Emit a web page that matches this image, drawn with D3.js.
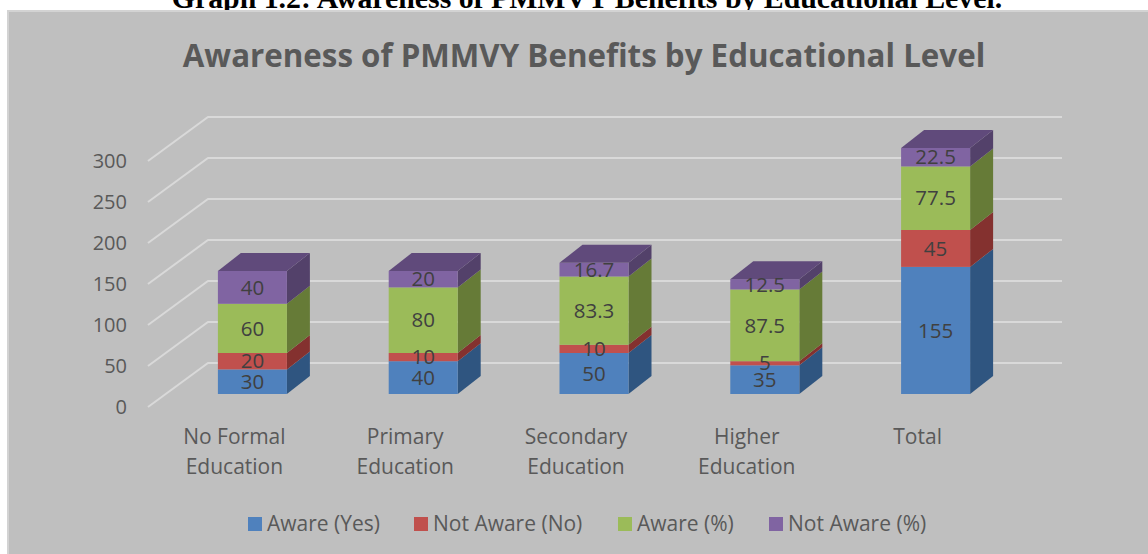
<!DOCTYPE html>
<html>
<head>
<meta charset="utf-8">
<script src="https://cdn.jsdelivr.net/npm/d3@7"></script>
<style>
html, body { margin: 0; padding: 0; background: #fff; overflow: hidden; }
svg { display: block; }
</style>
</head>
<body>
<div id="chart"></div>
<script>
const categories = ["No Formal Education", "Primary Education", "Secondary Education", "Higher Education", "Total"]
const categoryLines = [["No Formal", "Education"], ["Primary", "Education"], ["Secondary", "Education"], ["Higher", "Education"], ["Total"]]
const seriesNames = ["Aware (Yes)", "Not Aware (No)", "Aware (%)", "Not Aware (%)"]
const awareYes = [30, 40, 50, 35, 155]
const notAwareNo = [20, 10, 10, 5, 45]
const awarePct = [60, 80, 83.3, 87.5, 77.5]
const notAwarePct = [40, 20, 16.7, 12.5, 22.5]
const yTicks = [0, 50, 100, 150, 200, 250, 300]
const frontColors = ["#4f81bd", "#c0504d", "#9bbb59", "#8064a2"]
const sideColors = ["#2f5580", "#84312f", "#667b37", "#53416a"]
const topColor = "#604a7b"

const width = 1148
const height = 554
const font = "'Open Sans', sans-serif"

// floor depth, and how far the bars sit inside the floor
const depth = {x: 60, y: -44}
const inset = {x: 19, y: -13}
const barDepth = {x: 23, y: -18}

const rows = categories.map((c, i) => ({
    category: c,
    [seriesNames[0]]: awareYes[i],
    [seriesNames[1]]: notAwareNo[i],
    [seriesNames[2]]: awarePct[i],
    [seriesNames[3]]: notAwarePct[i]
}))
const stacked = d3.stack().keys(seriesNames)(rows)

const x = d3.scaleBand()
    .domain(categories)
    .range([148, 1002])
    .paddingInner(0.596)
    .paddingOuter(0.298)

const y = d3.scaleLinear()
    .domain([0, 300])
    .range([407, 161])

const svg = d3.select("#chart")
    .append("svg")
    .attr("width", width)
    .attr("height", height)
    .attr("viewBox", [0, 0, width, height])

svg.append("text")
    .attr("x", 587)
    .attr("y", 8)
    .attr("text-anchor", "middle")
    .style("font-family", "'Liberation Serif', serif")
    .style("font-weight", "bold")
    .style("font-size", "29.8px")
    .text("Graph 1.2: Awareness of PMMVY Benefits by Educational Level.")

svg.append("rect")
    .attr("x", 8)
    .attr("y", 11)
    .attr("width", width)
    .attr("height", height)
    .attr("fill", "#bfbfbf")
    .attr("stroke", "#d3d3d3")
    .attr("stroke-width", 2)

svg.append("text")
    .attr("x", 584)
    .attr("y", 67)
    .attr("text-anchor", "middle")
    .style("font-family", font)
    .style("font-weight", "bold")
    .style("font-size", "31.3px")
    .attr("fill", "#595959")
    .text("Awareness of PMMVY Benefits by Educational Level")

// gridlines run along the side wall and then the back wall
svg.append("g")
    .selectAll("path")
    .data(yTicks)
    .join("path")
    .attr("fill", "none")
    .attr("stroke", "#d9d9d9")
    .attr("stroke-width", 2)
    .attr("d", d => d3.line()([
        [x.range()[0], y(d)],
        [x.range()[0] + depth.x, y(d) + depth.y],
        [x.range()[1] + depth.x, y(d) + depth.y]
    ]))

const yAxis = svg.append("g")
    .attr("transform", "translate(134,0)")
    .call(d3.axisLeft(y).tickValues(yTicks).tickSize(0).tickPadding(7))
yAxis.select(".domain").remove()
yAxis.selectAll("text")
    .style("font-family", font)
    .style("font-size", "20px")
    .attr("fill", "#595959")

const xAxis = svg.append("g")
    .attr("transform", "translate(1,437)")
    .call(d3.axisBottom(x).tickSize(0).tickPadding(0))
xAxis.select(".domain").remove()
xAxis.selectAll("text")
    .text(null)
    .attr("y", 0)
    .style("font-family", font)
    .style("font-size", "21px")
    .attr("fill", "#595959")
    .selectAll("tspan")
    .data((d, i) => categoryLines[i])
    .join("tspan")
    .attr("x", 0)
    .attr("dy", (d, i) => i === 0 ? "0.35em" : "30px")
    .text(d => d)

const barLeft = d => x(d.data.category) + inset.x
const barRight = d => barLeft(d) + x.bandwidth()

const layer_bars = svg.append("g")
stacked.forEach((s, i) => {
    const group = layer_bars.append("g")
    group.selectAll("path.side")
        .data(s)
        .join("path")
        .attr("class", "side")
        .attr("fill", sideColors[i])
        .attr("d", d => d3.line()([
            [barRight(d), y(d[0]) + inset.y],
            [barRight(d) + barDepth.x, y(d[0]) + inset.y + barDepth.y],
            [barRight(d) + barDepth.x, y(d[1]) + inset.y + barDepth.y],
            [barRight(d), y(d[1]) + inset.y]
        ]) + "Z")
    group.selectAll("rect")
        .data(s)
        .join("rect")
        .attr("fill", frontColors[i])
        .attr("x", barLeft)
        .attr("y", d => y(d[1]) + inset.y)
        .attr("width", x.bandwidth())
        .attr("height", d => y(d[0]) - y(d[1]))
    // only the last series shows its top face
    if (i === stacked.length - 1) {
        group.selectAll("path.top")
            .data(s)
            .join("path")
            .attr("class", "top")
            .attr("fill", topColor)
            .attr("d", d => d3.line()([
                [barLeft(d), y(d[1]) + inset.y],
                [barLeft(d) + barDepth.x, y(d[1]) + inset.y + barDepth.y],
                [barRight(d) + barDepth.x, y(d[1]) + inset.y + barDepth.y],
                [barRight(d), y(d[1]) + inset.y]
            ]) + "Z")
    }
})

const layer_labels = svg.append("g")
stacked.forEach(s => {
    layer_labels.append("g")
        .selectAll("text")
        .data(s)
        .join("text")
        .attr("x", d => barLeft(d) + x.bandwidth() / 2)
        .attr("y", d => (y(d[0]) + y(d[1])) / 2 + inset.y)
        .attr("dy", "0.35em")
        .attr("text-anchor", "middle")
        .style("font-family", font)
        .style("font-size", "20.5px")
        .attr("fill", "#404040")
        .text(d => +(d[1] - d[0]).toFixed(1))
})

const legendX = d3.scaleOrdinal().domain(seriesNames).range([248, 414, 618, 769])
const legend = svg.append("g")
    .selectAll("g")
    .data(seriesNames)
    .join("g")
    .attr("transform", d => `translate(${legendX(d)},517)`)
legend.append("rect")
    .attr("width", 14)
    .attr("height", 14)
    .attr("fill", (d, i) => frontColors[i])
legend.append("text")
    .attr("x", 19)
    .attr("y", 7)
    .attr("dy", "0.35em")
    .style("font-family", font)
    .style("font-size", "21px")
    .attr("fill", "#595959")
    .text(d => d)
</script>
</body>
</html>
